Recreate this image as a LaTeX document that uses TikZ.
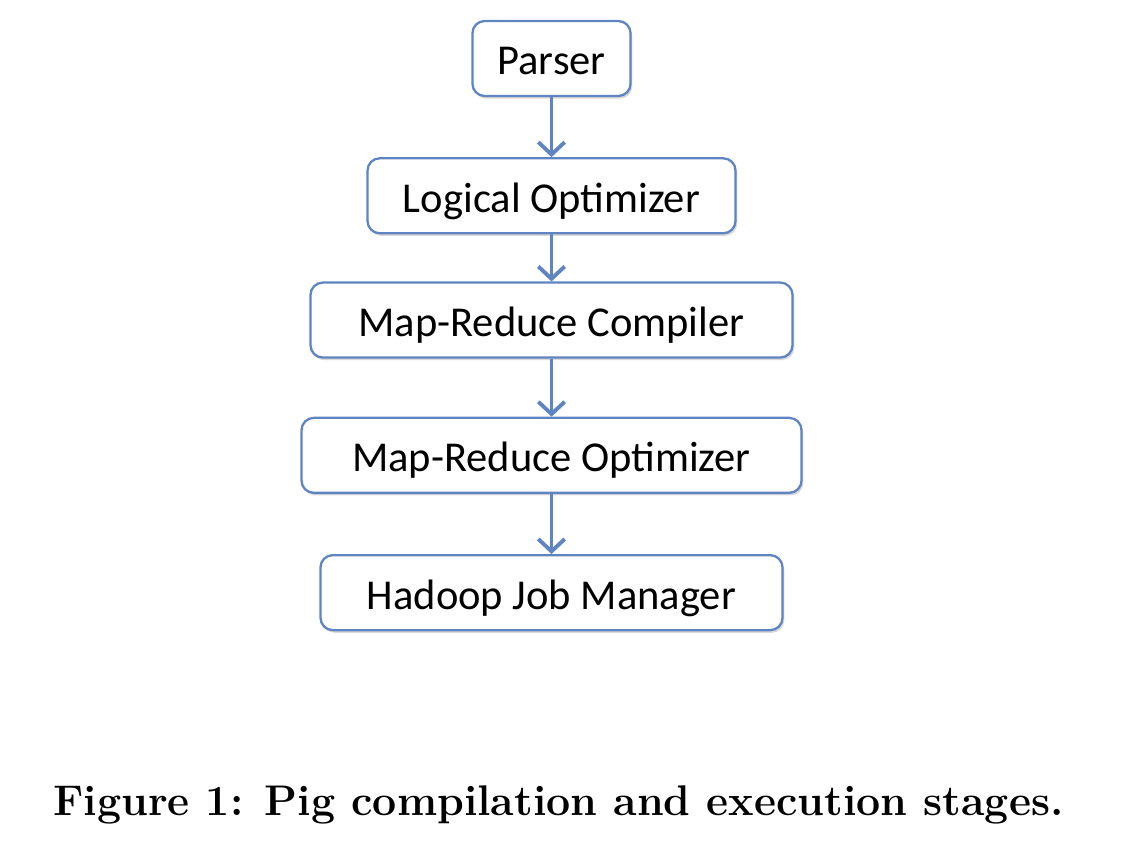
\documentclass[tikz,border=0pt]{standalone}
\usepackage{fontspec}
\setmainfont{Latin Modern Roman}
\newfontfamily\boxfont{Carlito}
\usetikzlibrary{positioning,shadows,arrows.meta}

\definecolor{stageblue}{HTML}{5F84C2}

\begin{document}
\begin{tikzpicture}[
    stage/.style={draw=stageblue, line width=1.3pt, rounded corners=7pt, fill=white,
      minimum height=1.5cm, inner xsep=0.5cm, text height=0.66cm, text depth=0cm,
      font=\boxfont\fontsize{24.2}{28}\selectfont,
      drop shadow={shadow xshift=1pt, shadow yshift=-1.5pt, opacity=0.3}},
    flow/.style={draw=stageblue, line width=2.2pt, -{Straight Barb[length=7pt, width=15pt, line width=2.2pt]}}
  ]
  \useasboundingbox (0,0) rectangle (22.44,-17.24);

  % Define nodes
  \node[stage, minimum width=3.14cm] (parser) at (11.03,-1.17) {Parser};
  \node[stage, minimum width=7.36cm, below=1.2cm of parser] (logopt) {Logical Optimizer};
  \node[stage, minimum width=9.64cm, below=0.94cm of logopt] (mrcomp) {Map-Reduce Compiler};
  \node[stage, minimum width=10.0cm, below=1.16cm of mrcomp] (mropt) {Map-Reduce Optimizer};
  \node[stage, minimum width=9.24cm, below=1.2cm of mropt] (hadoop) {Hadoop Job Manager};

  % Connect the nodes
  \draw[flow] (parser) -- (logopt);
  \draw[flow] (logopt) -- (mrcomp);
  \draw[flow] (mrcomp) -- (mropt);
  \draw[flow] (mropt) -- (hadoop);

  % Caption
  \node[anchor=base, font=\bfseries\fontsize{24.4}{28}\selectfont] (caption) at (11.17,-16.3)
    {Figure 1: Pig compilation and execution stages.};

\end{tikzpicture}
\end{document}
